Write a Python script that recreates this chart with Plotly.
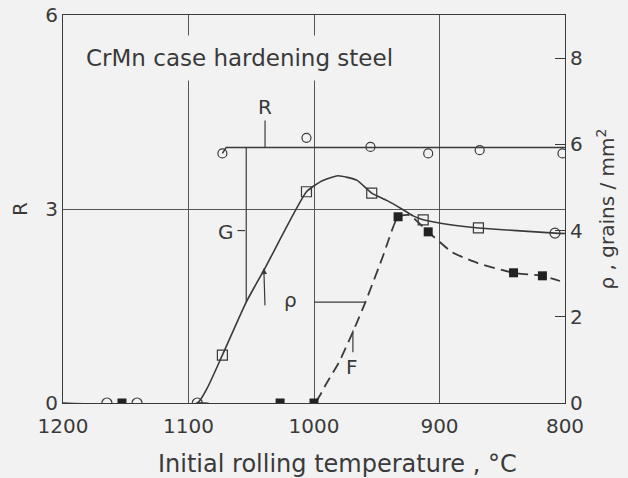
import plotly.graph_objects as go

# ---------------- data ----------------
# G curve (rho, grains/mm^2) - measured points
g_temp = [1165, 1141, 1093, 1073, 1006, 954, 913, 869, 808]
g_rho = [0, 0, 0, 1.11, 4.9, 4.87, 4.25, 4.06, 3.94]
g_symbols = ["circle-open", "circle-open", "circle-open", "square-open", "square-open",
             "square-open", "square-open", "square-open", "circle-open"]
# G curve - drawn line
g_line_temp = [1200, 1093, 1085, 1073, 1054, 1039, 1006, 995, 981, 966, 954, 942, 930, 921, 913, 890, 869, 808, 800]
g_line_rho = [0, 0, 0.35, 1.11, 2.34, 3.13, 4.9, 5.13, 5.27, 5.17, 4.87, 4.7, 4.5, 4.34, 4.25, 4.13, 4.06, 3.94, 3.93]

# F curve (rho) - measured points
f_temp = [1153, 1027, 1000, 933, 909, 841, 818]
f_rho = [0, 0, 0, 4.32, 3.97, 3.02, 2.95]
# F curve - drawn dashed line
f_line_temp = [1093, 1000, 990, 980, 969, 959, 945, 933, 924, 909, 890, 870, 841, 818, 804]
f_line_rho = [0, 0, 0.46, 0.95, 1.65, 2.34, 3.41, 4.32, 4.36, 3.97, 3.5, 3.25, 3.02, 2.95, 2.83]

# R series (left axis)
r_temp = [1073, 1006, 955, 909, 868, 802]
r_vals = [3.86, 4.10, 3.96, 3.86, 3.91, 3.86]
r_line_temp = [1073, 1070, 800]
r_line_vals = [3.86, 3.95, 3.95]

x_ticks = [1200, 1100, 1000, 900, 800]
r_ticks = [0, 3, 6]
rho_ticks = [0, 2, 4, 6, 8]

INK = "#3a3a3a"
BG = "#f2f2f2"
FONT = "DejaVu Sans"

fig = go.Figure()

# G line
fig.add_trace(go.Scatter(x=g_line_temp, y=g_line_rho, mode="lines", yaxis="y2",
                         line=dict(color=INK, width=1.6, shape="spline", smoothing=0.5),
                         hoverinfo="skip", showlegend=False))
# F line
fig.add_trace(go.Scatter(x=f_line_temp, y=f_line_rho, mode="lines", yaxis="y2",
                         line=dict(color=INK, width=1.8, dash="11px,6px", shape="spline", smoothing=0.5),
                         hoverinfo="skip", showlegend=False))
# R line
fig.add_trace(go.Scatter(x=r_line_temp, y=r_line_vals, mode="lines",
                         line=dict(color=INK, width=1.5),
                         hoverinfo="skip", showlegend=False))
# markers
fig.add_trace(go.Scatter(x=g_temp, y=g_rho, mode="markers", yaxis="y2",
                         marker=dict(symbol=g_symbols, size=10, color=INK,
                                     line=dict(color=INK, width=1.2)),
                         showlegend=False))
fig.add_trace(go.Scatter(x=f_temp, y=f_rho, mode="markers", yaxis="y2",
                         marker=dict(symbol="square", size=9, color="#222"),
                         showlegend=False))
fig.add_trace(go.Scatter(x=r_temp, y=r_vals, mode="markers",
                         marker=dict(symbol="circle-open", size=9, color=INK,
                                     line=dict(color=INK, width=1.2)),
                         showlegend=False))

# pointer lines
line_style = dict(color=INK, width=1.2)
fig.add_shape(type="line", xref="x", yref="y2", x0=1039, x1=1039, y0=6.55, y1=5.93, line=line_style)
fig.add_shape(type="line", xref="x", yref="y2", x0=1054, x1=1054, y0=5.92, y1=2.34, line=line_style)
fig.add_shape(type="line", xref="x", yref="y2", x0=1061, x1=1055, y0=4.0, y1=4.0, line=line_style)
fig.add_shape(type="line", xref="x", yref="y2", x0=969, x1=969, y0=1.18, y1=1.69, line=line_style)
fig.add_shape(type="line", xref="x", yref="y2", x0=1000, x1=959, y0=2.34, y1=2.34, line=line_style)

lab = dict(family=FONT, size=20, color=INK)
fig.add_annotation(x=1039, y=6.87, xref="x", yref="y2", text="R", showarrow=False, font=lab)
fig.add_annotation(x=1070, y=3.97, xref="x", yref="y2", text="G", showarrow=False, font=lab)
fig.add_annotation(x=1019, y=2.4, xref="x", yref="y2", text="ρ", showarrow=False, font=lab)
fig.add_annotation(x=970, y=0.84, xref="x", yref="y2", text="F", showarrow=False, font=lab)
# rho arrow
fig.add_annotation(x=1040, y=3.13, xref="x", yref="y2", ax=1039, ay=2.23, axref="x", ayref="y2",
                   text="", showarrow=True, arrowhead=2, arrowsize=1, arrowwidth=1.2, arrowcolor=INK)

# title inside
fig.add_annotation(x=0.026, y=0.889, xref="paper", yref="paper", xanchor="left", yanchor="middle",
                   text="CrMn case hardening steel", showarrow=False,
                   font=dict(family=FONT, size=23, color=INK), bgcolor=BG, borderpad=9)

# x-axis title (offset to the right as in the original)
fig.add_annotation(x=0.546, y=-0.158, xref="paper", yref="paper", xanchor="center", yanchor="middle",
                   text="Initial rolling temperature , °C", showarrow=False,
                   font=dict(family=FONT, size=24, color=INK))

fig.update_layout(
    width=628, height=478,
    margin=dict(l=63, r=63, t=15, b=75, autoexpand=False),
    paper_bgcolor=BG, plot_bgcolor=BG,
    font=dict(family=FONT, size=20, color=INK),
    xaxis=dict(range=[1200, 800], tickvals=x_ticks, ticktext=[str(v) for v in x_ticks],
               showgrid=True, gridcolor="#555", gridwidth=1, zeroline=False, automargin=False,
               showline=True, linecolor=INK, linewidth=1.2, mirror=True, ticks="",
               ticklabelstandoff=5),
    yaxis=dict(range=[0, 6], tickvals=r_ticks, showgrid=True, gridcolor="#555", gridwidth=1,
               zeroline=False, showline=True, linecolor=INK, linewidth=1.2, ticks="", automargin=False,
               title=dict(text="R", standoff=12, font=dict(family=FONT, size=20, color=INK))),
    yaxis2=dict(range=[0, 9], tickvals=rho_ticks, overlaying="y", side="right",
                showgrid=False, zeroline=False, showline=True, linecolor=INK, linewidth=1.2,
                ticks="inside", ticklen=10, tickcolor=INK, automargin=False,
                title=dict(text="ρ , grains / mm<sup>2</sup>", standoff=18,
                           font=dict(family=FONT, size=20, color=INK))),
)

fig.write_html("out.html", config={"displayModeBar": False},
               post_script="document.body.style.margin='0px';document.body.style.background='%s';" % BG)
